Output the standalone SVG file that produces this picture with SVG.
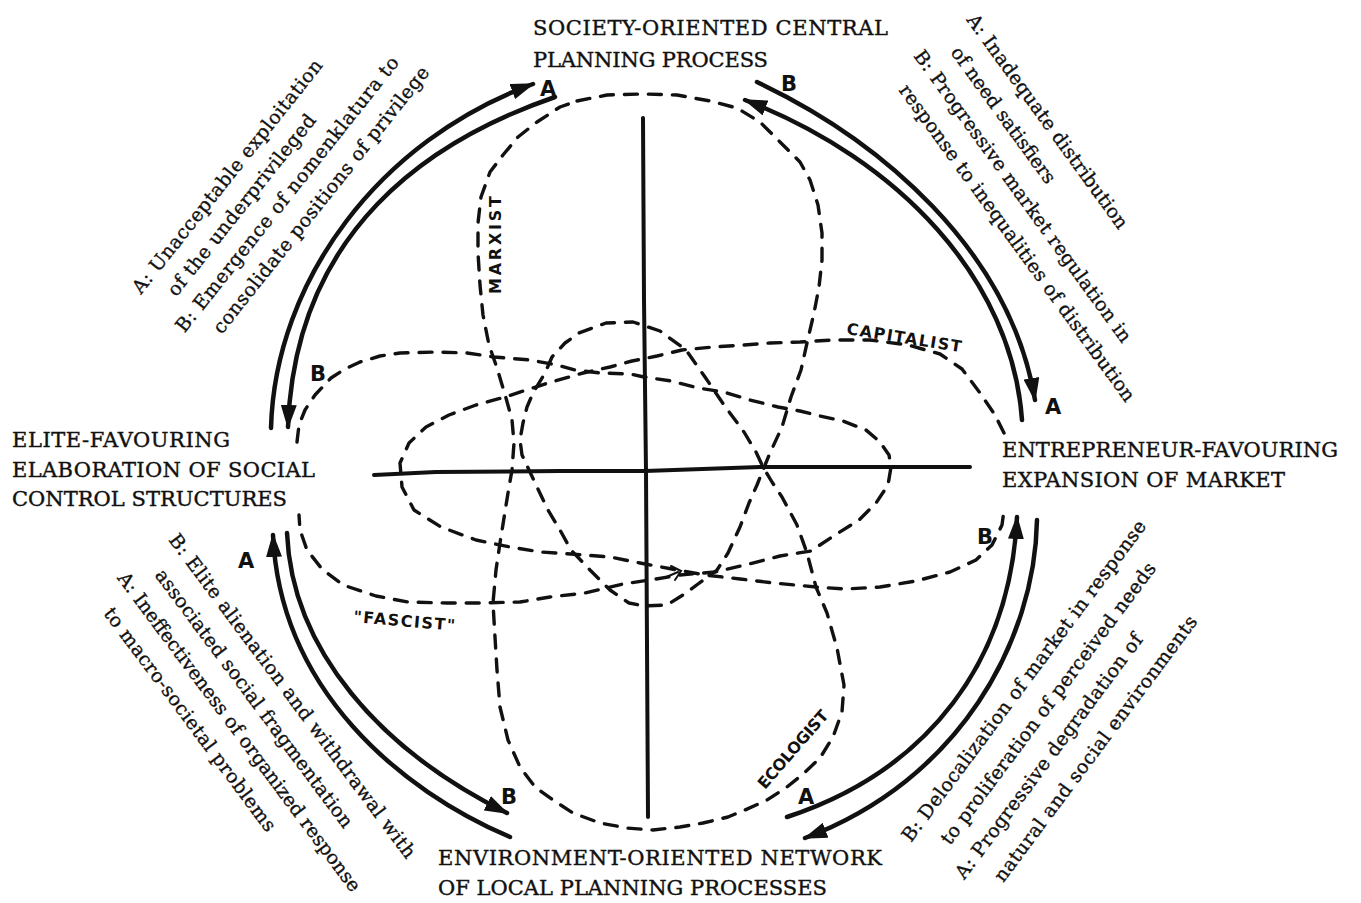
<svg xmlns="http://www.w3.org/2000/svg" width="1361" height="903" viewBox="0 0 1361 903">
<defs>
<style>
.pole{font-family:"DejaVu Serif","Liberation Serif",serif;font-size:21px;fill:#111;stroke:#111;stroke-width:0.4px}
.note{font-family:"DejaVu Serif","Liberation Serif",serif;font-size:19px;fill:#111;stroke:#111;stroke-width:0.35px}
.hand{font-family:"DejaVu Sans","Liberation Sans",sans-serif;font-size:21px;font-weight:bold;fill:#111}
.tag{font-family:"DejaVu Sans","Liberation Sans",sans-serif;font-size:16px;font-weight:bold;fill:#111}
.arc{fill:none;stroke:#111;stroke-width:4.5;stroke-linecap:round}
.axis{fill:none;stroke:#111;stroke-width:4;stroke-linecap:round;stroke-linejoin:round}
.dash{fill:none;stroke:#111;stroke-width:3.4;stroke-dasharray:13 11;stroke-linecap:round;stroke-linejoin:round}
</style>
<marker id="ah" viewBox="0 0 24 16" refX="22" refY="8" markerWidth="24" markerHeight="16" markerUnits="userSpaceOnUse" orient="auto">
<path d="M0,0 L24,8 L0,16 z" fill="#111"/>
</marker>
</defs>
<rect width="1361" height="903" fill="#fff"/>

<g id="axes">
<path class="axis" d="M643,118 L644,300 L646,471 L648,817"/>
<path class="axis" d="M374,475 L436,472 L560,471 L645,471 L760,467 L890,467 L970,467"/>
</g>

<g id="ideology-curves">
<path class="dash" d="M577,101 L607,95 L643,94 L677,95 L710,101 L737,108 L760,122 L780,142 L800,162 L810,180 L818,205 L822,233 L822,260 L819,287 L814,313 L807,343 L801,370 L791,397 L782,427 L770,453 L763,470 L757,485 L749,503 L740,527 L728,553 L717,570 L698,584 L686,593 L667,605 L644,606 L629,603 L610,590 L590,570 L571,550 L560,530 L548,510 L537,487 L529,470 L522,455 L520,440 L523,423 L527,407 L533,393 L545,373 L552,357 L565,343 L579,333 L606,323 L633,322 L660,331 L686,350 L705,377 L724,405 L744,432 L756,452 L763,467 L772,482 L782,497 L797,525 L807,553 L816,587 L827,613 L837,648 L844,685 L842,712 L833,737 L820,758 L803,774 L787,787 L767,800 L745,810 L728,817 L703,823 L680,827 L653,830 L627,828 L600,823 L573,813 L553,800 L535,787 L520,767 L508,740 L500,707 L497,670 L495,637 L493,603 L496,570 L500,543 L504,518 L508,493 L512,470 L514,443 L512,420 L506,398 L497,368 L489,345 L483,315 L480,285 L478,253 L478,223 L481,197 L490,172 L503,155 L518,137 L537,122 L560,107 Z"/>
<path class="dash" d="M1004,433 L995,415 L980,393 L962,369 L940,354 L908,345 L870,340 L832,340 L800,342 L770,343 L744,345 L713,347 L682,350 L657,356 L632,361 L610,367 L583,373 L548,383 L505,397 L476,405 L449,415 L426,427 L409,443 L400,463 L402,487 L414,510 L441,527 L476,540 L510,547 L541,552 L571,554 L610,557 L640,563 L672,569 L705,575 L740,579 L774,583 L816,587 L845,589 L880,587 L916,581 L950,572 L976,560 L992,545 L1002,525 L1004,510"/>
<path class="dash" d="M297,442 L299,425 L305,410 L315,395 L331,378 L345,369 L360,362 L380,356 L400,353 L436,352 L467,353 L494,357 L530,360 L557,365 L575,370 L600,373 L630,374 L644,377 L671,381 L698,388 L724,392 L750,400 L778,407 L800,411 L820,416 L843,421 L866,430 L880,442 L889,455 L891,467 L888,485 L876,503 L859,520 L835,535 L811,551 L780,556 L745,565 L715,572 L680,575 L656,579 L623,584 L585,593 L550,597 L520,602 L480,603 L447,603 L408,602 L376,596 L343,585 L322,569 L307,550 L300,530 L299,515"/>
<path fill="none" stroke="#111" stroke-width="2" stroke-linecap="round" d="M664,578 L678,572 M671,566 L681,571 L675,580"/>
<text class="tag" transform="translate(501,294) rotate(-90)" textLength="98" font-size="17">MARXIST</text>
<text class="tag" transform="translate(846,334) rotate(9)" textLength="116" font-size="15">CAPITALIST</text>
<text class="tag" transform="translate(353,622) rotate(5)" textLength="102" font-size="18">"FASCIST"</text>
<text class="tag" transform="translate(765,790) rotate(-49)" textLength="98">ECOLOGIST</text>
</g>

<g id="connectors">
<path class="arc" d="M271,428 C275,280 380,140 533,84" marker-end="url(#ah)"/>
<path class="arc" d="M555,97 C430,140 295,230 288,427" marker-end="url(#ah)"/>
<path class="arc" d="M757,82 C880,140 1010,250 1035,400" marker-end="url(#ah)"/>
<path class="arc" d="M1022,420 C1012,280 900,160 745,100" marker-end="url(#ah)"/>
<path class="arc" d="M1037,520 C1035,640 960,780 805,838" marker-end="url(#ah)"/>
<path class="arc" d="M787,817 C930,770 1010,660 1017,517" marker-end="url(#ah)"/>
<path class="arc" d="M510,837 C400,790 280,690 273,535" marker-end="url(#ah)"/>
<path class="arc" d="M287,533 C292,650 380,750 507,813" marker-end="url(#ah)"/>
<text class="hand" x="540" y="96">A</text>
<text class="hand" x="781" y="91">B</text>
<text class="hand" x="310" y="381">B</text>
<text class="hand" x="1045" y="414">A</text>
<text class="hand" x="977" y="544">B</text>
<text class="hand" x="798" y="804">A</text>
<text class="hand" x="501" y="804">B</text>
<text class="hand" x="238" y="568" font-size="25">A</text>
</g>

<g id="node-top">
<text class="pole" x="533" y="35" textLength="355">SOCIETY-ORIENTED CENTRAL</text>
<text class="pole" x="533" y="67" textLength="235">PLANNING PROCESS</text>
</g>
<g id="node-left">
<text class="pole" x="12" y="447" textLength="218">ELITE-FAVOURING</text>
<text class="pole" x="12" y="477" textLength="303">ELABORATION OF SOCIAL</text>
<text class="pole" x="12" y="506" textLength="275">CONTROL STRUCTURES</text>
</g>
<g id="node-right">
<text class="pole" x="1002" y="457" textLength="336">ENTREPRENEUR-FAVOURING</text>
<text class="pole" x="1002" y="487" textLength="283">EXPANSION OF MARKET</text>
</g>
<g id="node-bottom">
<text class="pole" x="438" y="865" textLength="444">ENVIRONMENT-ORIENTED NETWORK</text>
<text class="pole" x="438" y="895" textLength="389">OF LOCAL PLANNING PROCESSES</text>
</g>

<g id="note-top-left" transform="translate(141,295) rotate(-51.5)">
<text class="note" x="0" y="0" textLength="293">A: Unacceptable exploitation</text>
<text class="note" x="20" y="29" textLength="226">of the underprivileged</text>
<text class="note" x="-3" y="58" textLength="346">B: Emergence of nomenklatura to</text>
<text class="note" x="19" y="88" textLength="335">consolidate positions of privilege</text>
</g>
<g id="note-top-right" transform="translate(966,20) rotate(54)">
<text class="note" x="0" y="0" textLength="260">A: Inadequate distribution</text>
<text class="note" x="17" y="32" textLength="164">of need satisfiers</text>
<text class="note" x="-2" y="64" textLength="356">B: Progressive market regulation in</text>
<text class="note" x="17" y="96" textLength="387">response to inequalities of distribution</text>
</g>
<g id="note-bottom-left" transform="translate(168,540) rotate(53.3)">
<text class="note" x="0" y="0" textLength="399">B: Elite alienation and withdrawal with</text>
<text class="note" x="20" y="32" textLength="317">associated social fragmentation</text>
<text class="note" x="0" y="64" textLength="393">A: Ineffectiveness of organized response</text>
<text class="note" x="20" y="96" textLength="274">to macro-societal problems</text>
</g>
<g id="note-bottom-right" transform="translate(911,843) rotate(-53.3)">
<text class="note" x="0" y="0" textLength="395">B: Delocalization of market in response</text>
<text class="note" x="21" y="33" textLength="346">to proliferation of perceived needs</text>
<text class="note" x="2" y="65" textLength="300">A: Progressive degradation of</text>
<text class="note" x="23" y="98" textLength="326">natural and social environments</text>
</g>
</svg>
